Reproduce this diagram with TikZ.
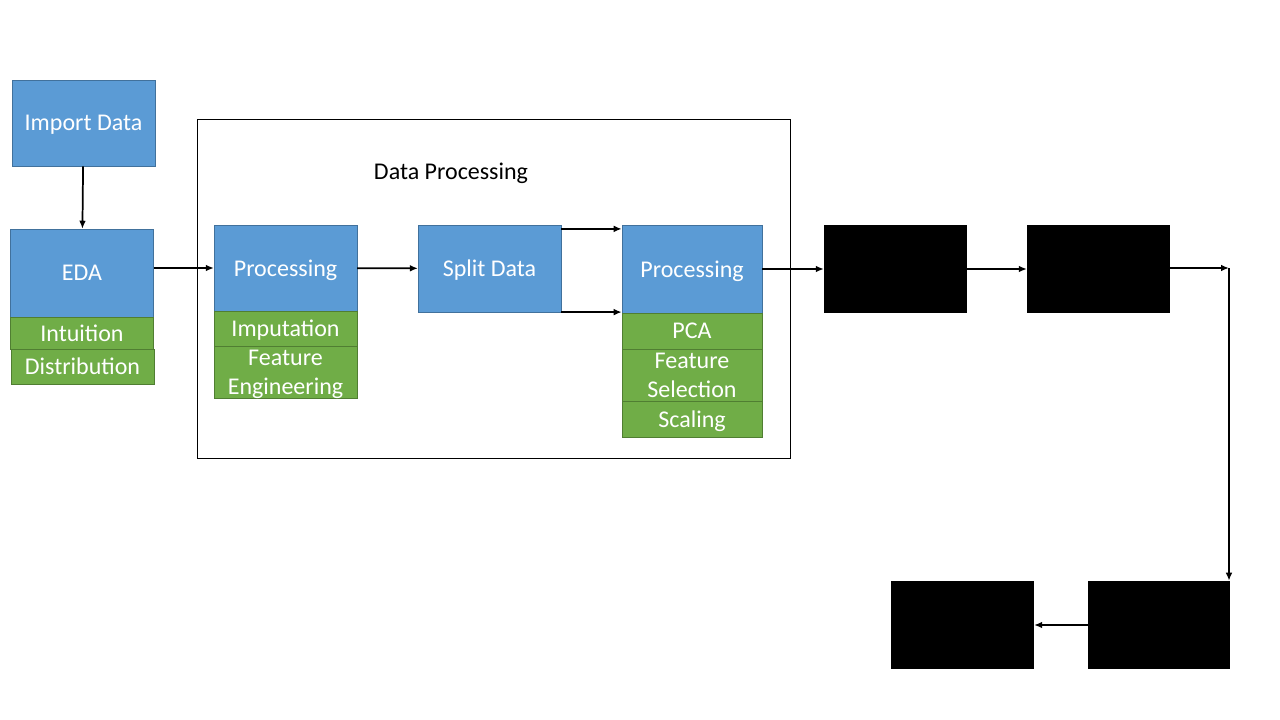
\documentclass[tikz,border=0pt]{standalone}
\usepackage{fontspec}
\setmainfont{Carlito}
\usepackage{tikz}
\usetikzlibrary{arrows.meta,positioning,calc}
\definecolor{boxblue}{HTML}{5B9BD5}
\definecolor{boxblueline}{HTML}{41719C}
\definecolor{boxgreen}{HTML}{70AD47}
\definecolor{boxgreenline}{HTML}{507E32}
\tikzset{
procbox/.style={draw=boxblueline,fill=boxblue,text=white,inner sep=0pt,minimum width=107pt,minimum height=65pt,align=center,text depth=0pt},
subbox/.style={draw=boxgreenline,fill=boxgreen,text=white,inner sep=0pt,minimum width=107pt,align=center,text depth=0pt},
blackbox/.style={fill=black,inner sep=0pt,minimum width=107pt,minimum height=66pt},
arr/.style={-{Latex[length=6pt,width=5pt]},line width=1.3pt}
}

\begin{document}
\begin{tikzpicture}[x=0.75pt,y=-0.75pt,font=\fontsize{18}{21.6}\selectfont]
\useasboundingbox (0,0) rectangle (1280,720);
\draw[line width=0.8pt](197.5,119.5) rectangle (790.5,458.5);
\node[text depth=0pt] (title) at (451,171) {Data Processing};
\node[procbox,minimum height=64.5pt] (imp) at (83.5,123) {Import Data};
\node[procbox,minimum height=66pt] (eda) at (82,273) {EDA};
\node[subbox,minimum height=24pt] (intu) at (82,333) {Intuition};
\node[subbox,minimum height=26pt] (dist) at (82.5,366.5) {Distribution};
\node[procbox,minimum height=64.5pt] (proc) at (285.5,268) {Processing};
\node[subbox,minimum height=26pt] (imput) at (285.5,328.5) {Imputation};
\node[subbox,minimum height=39pt] (feng) at (285.5,372) {Feature\\Engineering};
\node[procbox,minimum height=65pt] (split) at (489.5,268.5) {Split Data};
\node[procbox,minimum width=105pt,minimum height=66pt] (prep) at (692,269) {Processing};
\node[subbox,minimum width=105pt,minimum height=27pt] (pca) at (692,331) {PCA};
\node[subbox,minimum width=105pt,minimum height=39pt] (fsel) at (692,375) {Feature\\Selection};
\node[subbox,minimum width=105pt,minimum height=27pt] (scal) at (692,419) {Scaling};
\node[blackbox] (model) at (895.5,269) {};
\node[blackbox] (train) at (1098.5,269) {};
\node[blackbox,minimum width=106.5pt] (eval) at (1159,625) {};
\node[blackbox] (result) at (962.5,625) {};
\coordinate (turn) at (1229,268);
\draw[arr](imp)--(eda);
\draw[arr](eda.east |- proc)--(proc);
\draw[arr](proc)--(split);
\draw[arr]([yshift=-3pt]split.north east)--([yshift=-3pt]split.north east -| prep.west);
\draw[arr](split.south east)--(split.south east -| prep.west);
\draw[arr](prep)--(model);
\draw[arr](model)--(train);
\draw[arr](train.east |- turn)--(turn);
\draw[arr](turn)--(turn |- eval.north);
\draw[arr](eval)--(result);
\end{tikzpicture}
\end{document}
